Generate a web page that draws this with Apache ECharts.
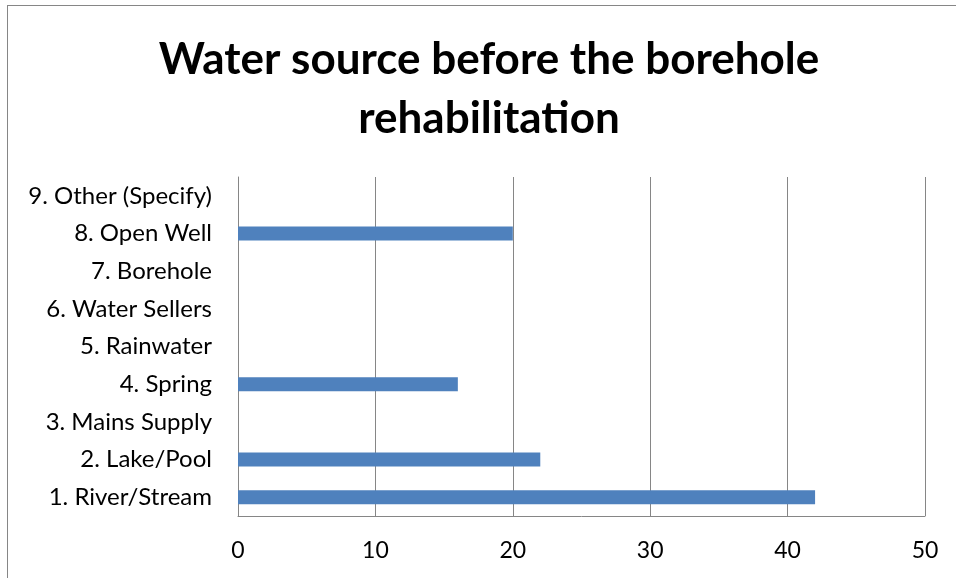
<!DOCTYPE html>
<html>
<head>
<meta charset="utf-8">
<script src="https://cdn.jsdelivr.net/npm/echarts@6/dist/echarts.min.js"></script>
<style>
  html, body { margin: 0; padding: 0; background: #fff; }
  #frame { position: absolute; left: 7px; top: 5px; width: 960px; height: 590px; border: 1px solid #868686; }
  #chart { position: absolute; left: 0; top: 0; width: 956px; height: 578px; }
</style>
</head>
<body>
<div id="frame"></div>
<div id="chart"></div>
<script>
  var titleText = 'Water source before the borehole\nrehabilitation';
  var sources = ['1. River/Stream', '2. Lake/Pool', '3. Mains Supply', '4. Spring', '5. Rainwater',
                 '6. Water Sellers', '7. Borehole', '8. Open Well', '9. Other (Specify)'];
  var counts = [42, 22, 0, 16, 0, 0, 0, 20, 0];
  var xTicks = [0, 10, 20, 30, 40, 50];

  var chart = echarts.init(document.getElementById('chart'), null, { renderer: 'canvas' });
  var option = {
    animation: false,
    backgroundColor: 'transparent',
    textStyle: { fontFamily: 'Lato' },
    title: {
      text: titleText,
      left: 484,
      top: 25,
      textAlign: 'center',
      textStyle: { fontFamily: 'Lato', fontWeight: 'bold', fontSize: 44, lineHeight: 59, color: '#000' }
    },
    grid: { left: 238, right: 31, top: 177, bottom: 62 },
    xAxis: {
      type: 'value',
      min: xTicks[0],
      max: xTicks[xTicks.length - 1],
      interval: 10,
      axisLine: { show: true, lineStyle: { color: '#868686', width: 1 } },
      axisTick: { show: false },
      axisLabel: { color: '#000', fontSize: 23, margin: 23, fontFamily: 'Lato' },
      splitLine: { show: true, lineStyle: { color: '#868686', width: 1 } }
    },
    yAxis: {
      type: 'category',
      data: sources,
      axisLine: { show: true, lineStyle: { color: '#868686', width: 1 } },
      axisTick: { show: false },
      axisLabel: { color: '#000', fontSize: 24, margin: 26, fontFamily: 'Lato' },
      splitLine: { show: false }
    },
    series: [{
      type: 'bar',
      data: counts,
      barWidth: 14,
      itemStyle: { color: '#4F81BD' }
    }]
  };
  chart.setOption(option);
</script>
</body>
</html>
